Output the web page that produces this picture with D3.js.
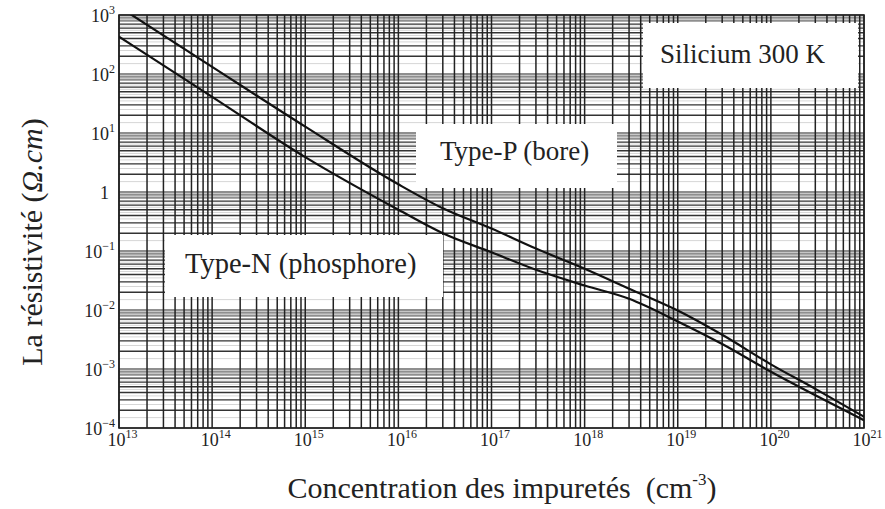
<!DOCTYPE html>
<html>
<head>
<meta charset="utf-8">
<script src="https://cdn.jsdelivr.net/npm/d3@7/dist/d3.min.js"></script>
<style>
    body { margin: 0; background: #fff; }
    svg { font-family: "Liberation Serif", "Times New Roman", serif; }
</style>
</head>
<body>
<div id="chart"></div>
<script>
// Impurity concentration (cm^-3) and resistivity (ohm.cm)
var concentration = [1e13, 1e14, 1e15, 1e16, 3e16, 1e17, 3e17, 1e18, 3e18, 1e19, 3e19, 1e20, 3e20, 1e21];
var rhoTypeP = [1380, 132, 12.8, 1.35, 0.53, 0.24, 0.11, 0.05, 0.023, 0.0098, 0.0038, 0.0012, 0.00046, 0.000155];
var rhoTypeN = [430, 41, 3.9, 0.5, 0.2, 0.095, 0.048, 0.026, 0.0155, 0.0064, 0.00265, 0.0009, 0.00036, 0.000135];

// Decade exponents used for the tick labels
var xTickExponents = [13, 14, 15, 16, 17, 18, 19, 20, 21];
var yTickExponents = [-4, -3, -2, -1, 0, 1, 2, 3];

var labelSilicium = "Silicium 300 K";
var labelTypeP = "Type-P (bore)";
var labelTypeN = "Type-N (phosphore)";

var width = 885, height = 509;
var margin = {top: 15, right: 21, bottom: 81, left: 119};

var svg = d3.select('#chart').append('svg')
    .attr('width', width)
    .attr('height', height);

var x = d3.scaleLog()
    .domain([1e13, 1e21])
    .range([margin.left, width - margin.right]);

var y = d3.scaleLog()
    .domain([1e-4, 1e3])
    .range([height - margin.bottom, margin.top]);

var plotTop = margin.top, plotBottom = height - margin.bottom;
var plotLeft = margin.left, plotRight = width - margin.right;

// Faint half-step lines between the main log grid lines
function halfSteps(scale) {
    var out = [];
    var d = scale.domain();
    var lo = Math.round(Math.log10(d[0])), hi = Math.round(Math.log10(d[1]));
    for (var n = lo; n < hi; n++) {
        for (var k = 1; k < 7; k++) out.push((k + 0.5) * Math.pow(10, n));
    }
    return out;
}

function mantissa(v) {
    return Math.round(v / Math.pow(10, Math.floor(Math.log10(v) + 1e-9)));
}

var grid = svg.append('g').classed('grid', true);

grid.selectAll('line.hminor')
    .data(halfSteps(y))
    .enter().append('line')
    .classed('hminor', true)
    .attr('x1', plotLeft).attr('x2', plotRight)
    .attr('y1', function(d) { return y(d); })
    .attr('y2', function(d) { return y(d); })
    .attr('stroke', '#d6d6d6')
    .attr('stroke-width', 1);

grid.selectAll('line.h')
    .data(y.ticks())
    .enter().append('line')
    .classed('h', true)
    .attr('x1', plotLeft).attr('x2', plotRight)
    .attr('y1', function(d) { return y(d); })
    .attr('y2', function(d) { return y(d); })
    .attr('stroke', function(d) {
        var k = mantissa(d);
        return (k === 1 || k >= 8) ? '#8f8f8f' : '#333';
    })
    .attr('stroke-width', function(d) {
        var k = mantissa(d);
        return (k === 1 || k >= 8) ? 2.2 : 1.3;
    });

grid.selectAll('line.v')
    .data(x.ticks())
    .enter().append('line')
    .classed('v', true)
    .attr('y1', plotTop).attr('y2', plotBottom)
    .attr('x1', function(d) { return x(d); })
    .attr('x2', function(d) { return x(d); })
    .attr('stroke', '#222')
    .attr('stroke-width', 1.5);

// White label boxes that cover the grid
var boxes = [
    {text: labelSilicium, x0: 643, y0: 23, x1: 858, y1: 88, tx: 660, ty: 63, size: 27},
    {text: labelTypeP, x0: 416, y0: 124, x1: 617, y1: 188, tx: 440, ty: 160, size: 27},
    {text: labelTypeN, x0: 165, y0: 235, x1: 443, y1: 297, tx: 185, ty: 273, size: 28.5}
];

var notes = svg.append('g').classed('notes', true);
notes.selectAll('rect')
    .data(boxes)
    .enter().append('rect')
    .attr('x', function(d) { return d.x0; })
    .attr('y', function(d) { return d.y0; })
    .attr('width', function(d) { return d.x1 - d.x0; })
    .attr('height', function(d) { return d.y1 - d.y0; })
    .attr('fill', '#fff');

notes.selectAll('text')
    .data(boxes)
    .enter().append('text')
    .attr('x', function(d) { return d.tx; })
    .attr('y', function(d) { return d.ty; })
    .attr('font-size', function(d) { return d.size; })
    .attr('fill', '#222')
    .text(function(d) { return d.text; });

// Plot frame
svg.append('rect')
    .attr('x', plotLeft).attr('y', plotTop)
    .attr('width', plotRight - plotLeft).attr('height', plotBottom - plotTop)
    .attr('fill', 'none')
    .attr('stroke', '#222')
    .attr('stroke-width', 1.6);

// Curves
var line = d3.line()
    .x(function(d) { return x(d[0]); })
    .y(function(d) { return y(d[1]); })
    .curve(d3.curveMonotoneX);

svg.append('clipPath').attr('id', 'plot-clip')
    .append('rect')
    .attr('x', plotLeft).attr('y', plotTop)
    .attr('width', plotRight - plotLeft).attr('height', plotBottom - plotTop);

var curves = svg.append('g').attr('clip-path', 'url(#plot-clip)');
[rhoTypeP, rhoTypeN].forEach(function(series) {
    curves.append('path')
        .datum(d3.zip(concentration, series))
        .attr('d', line)
        .attr('fill', 'none')
        .attr('stroke', '#111')
        .attr('stroke-width', 2.2);
});

// Axes with power-of-ten labels
function powerLabel(sel, exps) {
    sel.each(function(d, i) {
        var t = d3.select(this);
        var e = exps[i];
        t.text(null);
        if (e === 0) {
            t.text('1');
            return;
        }
        t.append('tspan').text('10');
        t.append('tspan')
            .attr('font-size', 12)
            .attr('dy', -8)
            .text(e < 0 ? '\u2212' + (-e) : String(e));
    });
}

var xAxis = d3.axisBottom(x)
    .tickValues(xTickExponents.map(function(e) { return Math.pow(10, e); }))
    .tickSize(0)
    .tickFormat(function() { return ''; });

var gx = svg.append('g')
    .classed('x axis', true)
    .attr('transform', 'translate(0,' + plotBottom + ')')
    .call(xAxis);
gx.select('.domain').remove();
gx.selectAll('text')
    .attr('y', 18)
    .attr('dy', 0)
    .attr('dx', 3)
    .attr('font-size', 18)
    .attr('font-family', '"Liberation Serif", serif')
    .attr('fill', '#222')
    .call(powerLabel, xTickExponents);

var yAxis = d3.axisLeft(y)
    .tickValues(yTickExponents.map(function(e) { return Math.pow(10, e); }))
    .tickSize(0)
    .tickFormat(function() { return ''; });

var gy = svg.append('g')
    .classed('y axis', true)
    .attr('transform', 'translate(' + plotLeft + ',0)')
    .call(yAxis);
gy.select('.domain').remove();
gy.selectAll('text')
    .attr('x', -4)
    .attr('dy', 6)
    .attr('font-size', 18)
    .attr('font-family', '"Liberation Serif", serif')
    .attr('fill', '#222')
    .call(powerLabel, yTickExponents);
gy.selectAll('text').filter(function(d) { return d === 1; })
    .attr('x', -10);

// Axis titles
var xTitle = svg.append('text')
    .attr('x', 502)
    .attr('y', 498)
    .attr('text-anchor', 'middle')
    .attr('font-size', 30)
    .attr('fill', '#222');
xTitle.append('tspan').text('Concentration des impuret\u00e9s\u00a0 (cm');
xTitle.append('tspan').attr('font-size', 17).attr('dy', -13).text('-3');
xTitle.append('tspan').attr('dy', 13).text(')');

var yTitle = svg.append('text')
    .attr('transform', 'translate(42,242) rotate(-90)')
    .attr('text-anchor', 'middle')
    .attr('font-size', 30)
    .attr('fill', '#222');
yTitle.append('tspan').text('La r\u00e9sistivit\u00e9 (');
yTitle.append('tspan').attr('font-style', 'italic').text('\u03a9.cm');
yTitle.append('tspan').text(')');
</script>
</body>
</html>
